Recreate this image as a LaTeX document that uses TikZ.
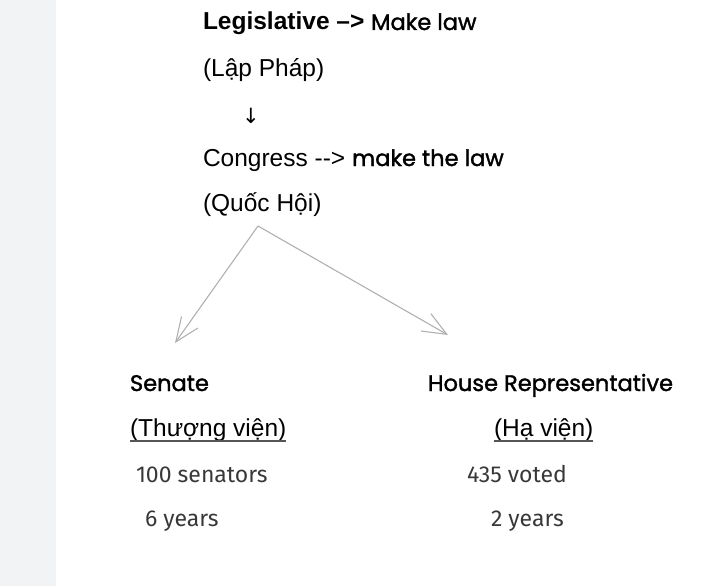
\documentclass[tikz,border=0pt]{standalone}
\usepackage{fontspec}
\setmainfont{Liberation Sans}
\newfontfamily\comicf[FakeBold=1.5]{Poppins}
\newfontfamily\handf{Fira Sans}
\newfontfamily\symf{DejaVu Sans}
\usetikzlibrary{arrows.meta}
\definecolor{stripgray}{HTML}{F1F3F4}
\definecolor{arrowgray}{HTML}{B0B0B0}
\definecolor{ulgray}{HTML}{555555}
\begin{document}
\begin{tikzpicture}[x=1pt,y=-1pt,
  txt/.style={anchor=base west,inner sep=0pt,outer sep=0pt,font=\fontsize{24.5}{28}\selectfont},
  comic/.style={txt,font=\comicf\fontsize{22.5}{26}\selectfont},
  hand/.style={txt,font=\handf\fontsize{23}{27}\selectfont,text=black!78},
  conn/.style={draw=arrowgray,line width=1.1pt,-{Straight Barb[length=24pt,width=20pt,line width=1.1pt]}},
  ul/.style={draw=ulgray,line width=1.4pt}]
\useasboundingbox (0,0) rectangle (725,586);
\fill[stripgray] (0,0) rectangle (56,586);
% top texts
\node[txt] (leg) at (203,30) {\textbf{Legislative –>} {\comicf\fontsize{22.5}{26}\selectfont Make law}};
\node[txt] (lap) at (203,76) {(Lập Pháp)};
\node[txt,font=\symf\fontsize{21}{24}\selectfont] (down) at (242,123) {↓};
\node[txt] (cong) at (203,166) {Congress -\kern0pt-> {\comicf\fontsize{22.5}{26}\selectfont make the law}};
\node[txt] (quoc) at (203,211) {(Quốc Hội)};
% branches
\coordinate (split) at (258,226);
\coordinate (leftend) at (175,343);
\coordinate (rightend) at (448,335);
\draw[conn] (split) -- (leftend);
\draw[conn] (split) -- (rightend);
% left column
\node[comic] (senate) at (130,391) {Senate};
\node[txt] (thuong) at (130,436) {(Thượng viện)};
\draw[ul] (thuong.base west) ++(0,5) -- ([yshift=-5pt]thuong.base east);
\node[hand] (hundred) at (136,482) {100 senators};
\node[hand] (six) at (145,526) {6 years};
% right column
\node[comic] (house) at (428,391) {House Representative};
\node[txt] (ha) at (494,436) {(Hạ viện)};
\draw[ul] (ha.base west) ++(0,5) -- ([yshift=-5pt]ha.base east);
\node[hand] (fourth) at (467,482) {435 voted};
\node[hand] (two) at (491,526) {2 years};
\end{tikzpicture}
\end{document}
